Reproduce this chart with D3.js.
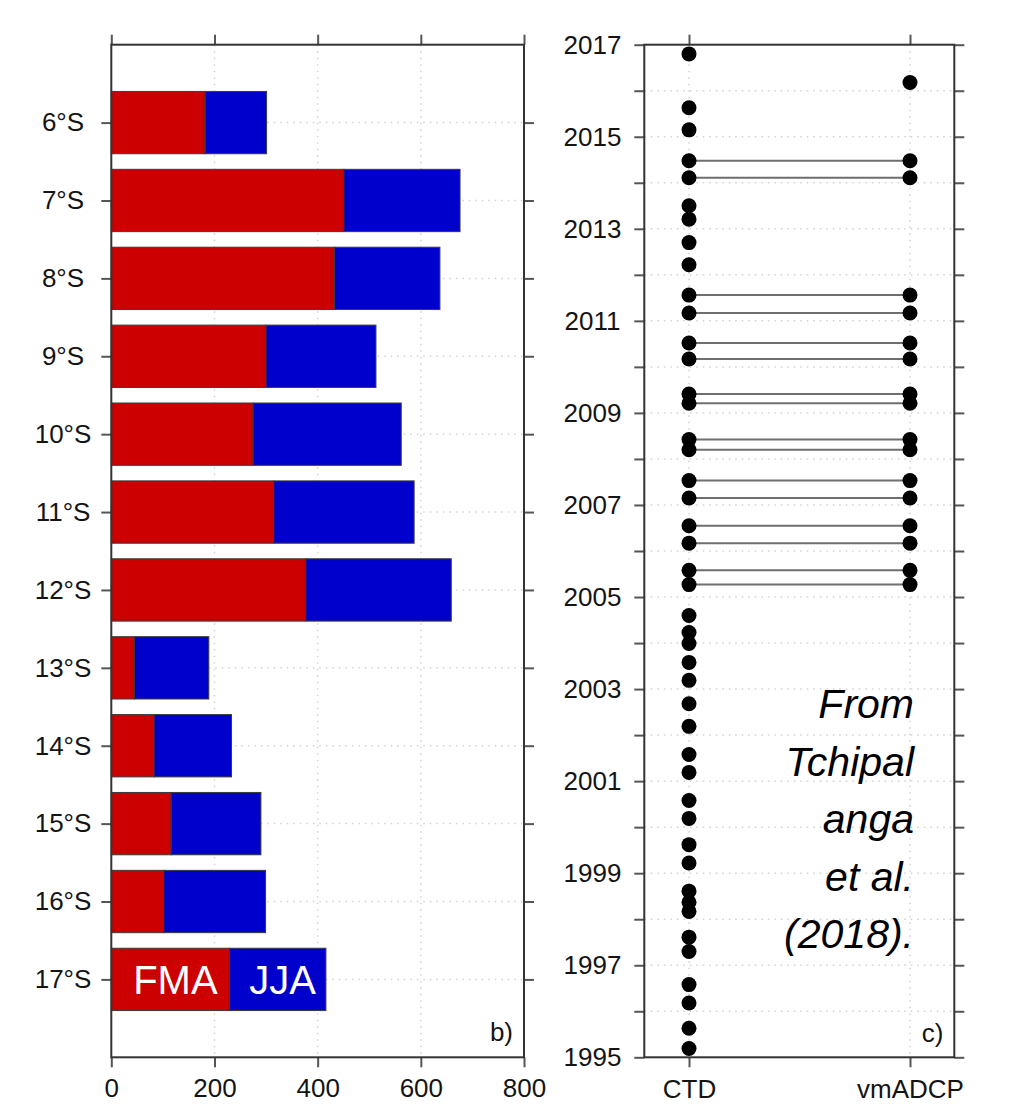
<!DOCTYPE html>
<html>
<head>
<meta charset="utf-8">
<script src="https://cdn.jsdelivr.net/npm/d3@7"></script>
<style>
  body { margin: 0; background: #fff; }
  text { font-family: "Liberation Sans", Arial, sans-serif; }
</style>
</head>
<body>
<svg id="fig" width="1024" height="1106"></svg>
<script>
// ---- data ----
const latitudes = ["6°S", "7°S", "8°S", "9°S", "10°S", "11°S", "12°S", "13°S", "14°S", "15°S", "16°S", "17°S"];
const fmaCounts = [182, 451, 433, 300, 275, 315, 377, 45, 83, 116, 102, 229];
const jjaCounts = [119, 225, 204, 213, 287, 272, 282, 144, 150, 174, 197, 187];
const countTicks = [0, 200, 400, 600, 800];
const seasonNames = ["FMA", "JJA"];

const platforms = ["CTD", "vmADCP"];
const ctdYears = [2016.80, 2015.63, 2015.15, 2014.48, 2014.11, 2013.50, 2013.21, 2012.70, 2012.22,
  2011.56, 2011.17, 2010.52, 2010.17, 2009.41, 2009.21, 2008.42, 2008.20, 2007.53, 2007.15,
  2006.55, 2006.17, 2005.58, 2005.27, 2004.60, 2004.23, 2003.99, 2003.58, 2003.19, 2002.68,
  2002.19, 2001.58, 2001.19, 2000.58, 2000.19, 1999.62, 1999.22, 1998.61, 1998.37, 1998.17,
  1997.61, 1997.30, 1996.58, 1996.18, 1995.63, 1995.19];
const adcpYears = [2016.18, 2014.48, 2014.11, 2011.56, 2011.17, 2010.52, 2010.17, 2009.41, 2009.21,
  2008.42, 2008.20, 2007.53, 2007.15, 2006.55, 2006.17, 2005.58, 2005.27];
const yearTicks = d3.range(1995, 2018);
const yearLabels = [1995, 1997, 1999, 2001, 2003, 2005, 2007, 2009, 2011, 2013, 2015, 2017];

const svg = d3.select("#fig");
const TOP = 44.7, BOTTOM = 1057.3, TICK = 10;
const FONT = 26;
const gridStyle = g => g.attr("stroke", "#d2d2d2").attr("stroke-width", 1.5)
  .attr("stroke-dasharray", "1.5,5").attr("fill", "none");
const RED = "#cc0000", BLUE = "#0000cc";

function styleAxis(g) {
  g.select(".domain").remove();
  g.selectAll(".tick line").attr("stroke", "#555").attr("stroke-width", 2);
  g.selectAll(".tick text").attr("font-size", FONT).attr("fill", "#141414")
    .attr("font-family", "Liberation Sans, Arial, sans-serif");
}

// ================= panel b: stacked bars =================
const xb = d3.scaleLinear().domain([0, 800]).range([111.3, 524]);
const yb = d3.scalePoint().domain(latitudes).range([TOP, BOTTOM]).padding(1);
const barH = yb.step() * 0.8;
const pb = svg.append("g");

// grid
pb.append("g").selectAll("line.v").data(countTicks.slice(1, -1)).join("line")
  .attr("x1", d => xb(d)).attr("x2", d => xb(d)).attr("y1", TOP).attr("y2", BOTTOM).call(gridStyle);
pb.append("g").selectAll("line.h").data(latitudes).join("line")
  .attr("x1", xb(0)).attr("x2", xb(800)).attr("y1", d => yb(d)).attr("y2", d => yb(d)).call(gridStyle);

// bars
const rows = latitudes.map((lat, i) => ({ lat, fma: fmaCounts[i], jja: jjaCounts[i] }));
const barG = pb.append("g");
barG.selectAll("rect.fma").data(rows).join("rect")
  .attr("x", xb(0)).attr("y", d => yb(d.lat) - barH / 2)
  .attr("width", d => xb(d.fma) - xb(0)).attr("height", barH)
  .attr("fill", RED).attr("stroke", "#3a3a3a").attr("stroke-width", 1);
barG.selectAll("rect.jja").data(rows).join("rect")
  .attr("x", d => xb(d.fma)).attr("y", d => yb(d.lat) - barH / 2)
  .attr("width", d => xb(d.fma + d.jja) - xb(d.fma)).attr("height", barH)
  .attr("fill", BLUE).attr("stroke", "#3a3a3a").attr("stroke-width", 1);

// season labels inside the last bar
const last = rows[rows.length - 1];
const segCenters = [(xb(0) + xb(last.fma)) / 2, (xb(last.fma) + xb(last.fma + last.jja)) / 2];
pb.append("g").selectAll("text").data(seasonNames).join("text")
  .attr("x", (d, i) => segCenters[i] + 5).attr("y", yb(last.lat) + 15)
  .attr("text-anchor", "middle").attr("font-size", 40).attr("fill", "#fff").text(d => d);

// axes
pb.append("g").attr("transform", `translate(0,${BOTTOM})`)
  .call(d3.axisBottom(xb).tickValues(countTicks).tickSize(TICK).tickSizeOuter(0).tickPadding(11))
  .call(styleAxis);
pb.append("g").attr("transform", `translate(0,${TOP})`)
  .call(d3.axisTop(xb).tickValues(countTicks).tickSize(TICK).tickSizeOuter(0).tickFormat(""))
  .call(styleAxis);
pb.append("g").attr("transform", `translate(${xb(0)},0)`)
  .call(d3.axisLeft(yb).tickSize(TICK).tickSizeOuter(0))
  .call(styleAxis)
  .call(g => g.selectAll(".tick text").attr("text-anchor", "middle").attr("x", 63 - xb(0)));
pb.append("g").attr("transform", `translate(${xb(800)},0)`)
  .call(d3.axisRight(yb).tickSize(TICK).tickSizeOuter(0).tickFormat(""))
  .call(styleAxis);

// frame and panel tag
pb.append("rect").attr("x", xb(0)).attr("y", TOP).attr("width", xb(800) - xb(0)).attr("height", BOTTOM - TOP)
  .attr("fill", "none").attr("stroke", "#333").attr("stroke-width", 2);
pb.append("text").attr("x", xb(800) - 11).attr("y", 1041).attr("text-anchor", "end")
  .attr("font-size", FONT).attr("fill", "#141414").text("b)");

// ================= panel c: sampling years =================
const xc = d3.scalePoint().domain(platforms).range([689, 910]);
const cLeft = 644.3, cRight = 954.3;
const yc = d3.scaleLinear().domain([1995, 2017]).range([BOTTOM, TOP]);
const pc = svg.append("g");

// grid
pc.append("g").selectAll("line").data(yearTicks.slice(1, -1)).join("line")
  .attr("x1", cLeft).attr("x2", cRight).attr("y1", d => yc(d)).attr("y2", d => yc(d)).call(gridStyle);
pc.append("g").selectAll("line").data(platforms).join("line")
  .attr("x1", d => xc(d)).attr("x2", d => xc(d)).attr("y1", TOP).attr("y2", BOTTOM).call(gridStyle);

// connecting lines for simultaneous sections
const paired = adcpYears.filter(y => ctdYears.includes(y));
pc.append("g").selectAll("line").data(paired).join("line")
  .attr("x1", xc("CTD")).attr("x2", xc("vmADCP"))
  .attr("y1", d => yc(d)).attr("y2", d => yc(d))
  .attr("stroke", "#6e6e6e").attr("stroke-width", 2);

// points
const pts = ctdYears.map(y => ({ p: "CTD", y })).concat(adcpYears.map(y => ({ p: "vmADCP", y })));
pc.append("g").selectAll("circle").data(pts).join("circle")
  .attr("cx", d => xc(d.p)).attr("cy", d => yc(d.y)).attr("r", 7.5).attr("fill", "#000");

// axes
pc.append("g").attr("transform", `translate(0,${BOTTOM})`)
  .call(d3.axisBottom(xc).tickSize(TICK).tickSizeOuter(0).tickPadding(12))
  .call(styleAxis);
pc.append("g").attr("transform", `translate(0,${TOP})`)
  .call(d3.axisTop(xc).tickSize(TICK).tickSizeOuter(0).tickFormat(""))
  .call(styleAxis);
pc.append("g").attr("transform", `translate(${cLeft},0)`)
  .call(d3.axisLeft(yc).tickValues(yearTicks).tickSize(TICK).tickSizeOuter(0)
    .tickFormat(d => yearLabels.includes(d) ? String(d) : ""))
  .call(styleAxis)
  .call(g => g.selectAll(".tick text").attr("text-anchor", "middle").attr("x", 592.5 - cLeft));
pc.append("g").attr("transform", `translate(${cRight},0)`)
  .call(d3.axisRight(yc).tickValues(yearTicks).tickSize(TICK).tickSizeOuter(0).tickFormat(""))
  .call(styleAxis);

pc.append("rect").attr("x", cLeft).attr("y", TOP).attr("width", cRight - cLeft).attr("height", BOTTOM - TOP)
  .attr("fill", "none").attr("stroke", "#333").attr("stroke-width", 2);
pc.append("text").attr("x", cRight - 11).attr("y", 1042).attr("text-anchor", "end")
  .attr("font-size", FONT).attr("fill", "#141414").text("c)");

// source note
const note = ["From", "Tchipal", "anga", "et al.", "(2018)."];
pc.append("g").selectAll("text").data(note).join("text")
  .attr("x", 914).attr("y", (d, i) => 718 + i * 57.5)
  .attr("text-anchor", "end").attr("font-size", 41).attr("font-style", "italic")
  .attr("font-family", "Lato, 'Open Sans', sans-serif").attr("fill", "#000").text(d => d);
</script>
</body>
</html>
